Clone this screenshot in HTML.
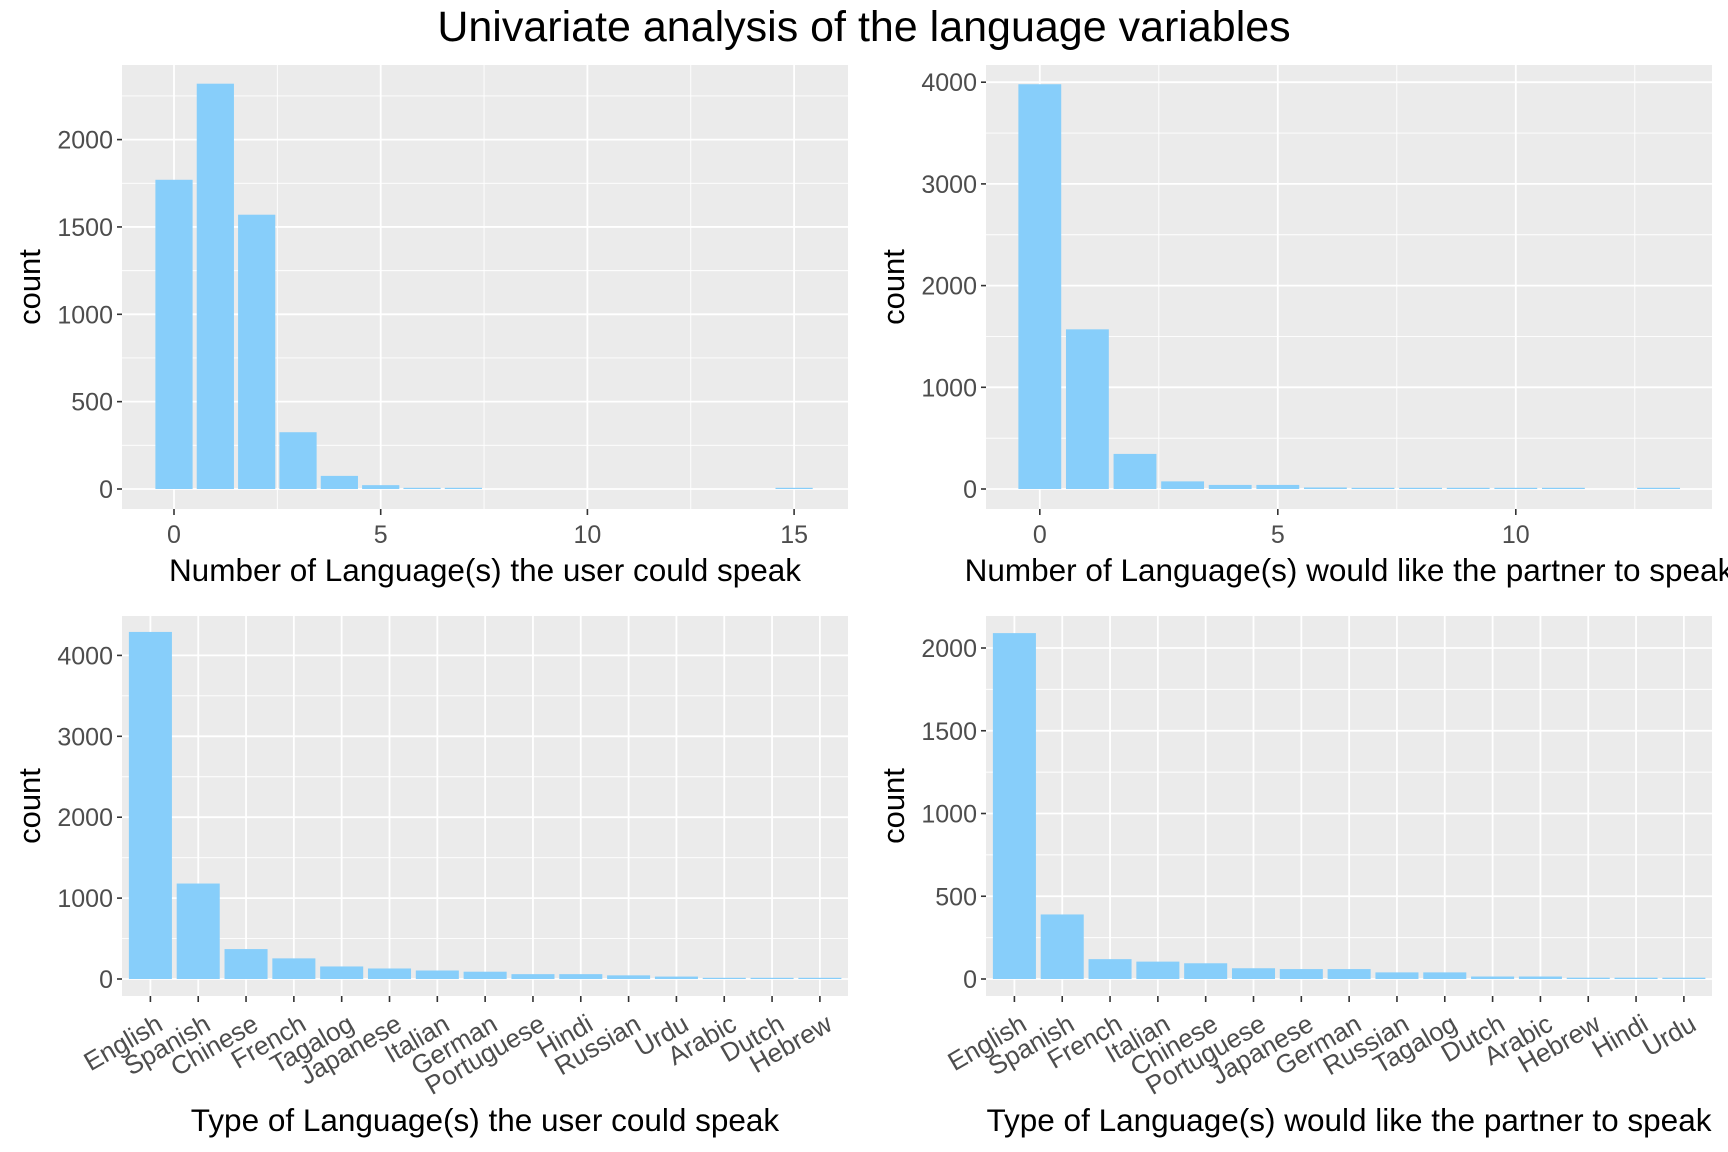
<!DOCTYPE html>
<html><head><meta charset="utf-8"><style>
html,body{margin:0;padding:0;background:#fff;overflow:hidden;}
svg{display:block;font-family:"Liberation Sans",Arial,sans-serif;}
</style></head><body>
<svg id="s" width="1728" height="1152" xmlns="http://www.w3.org/2000/svg">
<rect width="1728" height="1152" fill="#fff"/>
<text x="864" y="41" text-anchor="middle" font-size="43" fill="#000">Univariate analysis of the language variables</text>
</svg>
<script>
var NS="http://www.w3.org/2000/svg",S=document.getElementById("s");
function el(t,a,txt){var e=document.createElementNS(NS,t);for(var k in a)e.setAttribute(k,a[k]);if(txt!==undefined)e.textContent=txt;S.appendChild(e);return e;}
function panel(c){
 var L=c.ox+122,R=c.ox+848,T=c.top,B=c.bot;
 el("rect",{x:L,y:T,width:R-L,height:B-T,fill:"#EBEBEB"});
 var ym=function(v){return c.y0-v*c.uy;};
 var xm=function(v){return c.ox+c.x0+v*c.ux;};
 c.yminor.forEach(function(v){el("line",{x1:L,x2:R,y1:ym(v),y2:ym(v),stroke:"#fff","stroke-width":0.9});});
 (c.xminor||[]).forEach(function(v){el("line",{y1:T,y2:B,x1:xm(v),x2:xm(v),stroke:"#fff","stroke-width":0.9});});
 c.yticks.forEach(function(v){el("line",{x1:L,x2:R,y1:ym(v),y2:ym(v),stroke:"#fff","stroke-width":1.8});
  el("line",{x1:L-5,x2:L,y1:ym(v),y2:ym(v),stroke:"#333","stroke-width":1.6});
  el("text",{x:L-9,y:ym(v)+9,"text-anchor":"end","font-size":25,fill:"#4d4d4d"},String(v));});
 var xt=c.xticks;
 xt.forEach(function(v){el("line",{y1:T,y2:B,x1:xm(v),x2:xm(v),stroke:"#fff","stroke-width":1.8});
  el("line",{y1:B,y2:B+6,x1:xm(v),x2:xm(v),stroke:"#333","stroke-width":1.6});});
 var hw=0.45*c.ux;
 c.bars.forEach(function(b){var h=b[1]*c.uy;if(h<1.2)h=1.2;
  el("rect",{x:xm(b[0])-hw,y:c.y0-h,width:2*hw,height:h,fill:"#87CEFA"});});
 if(c.cats){c.cats.forEach(function(n,i){var x=xm(i)+14,y=B+33;
   el("text",{x:x,y:y,"text-anchor":"end","font-size":26,fill:"#4d4d4d",transform:"rotate(-30 "+x+" "+y+")"},n);});}
 else{xt.forEach(function(v){el("text",{x:xm(v),y:B+34,"text-anchor":"middle","font-size":25,fill:"#4d4d4d"},String(v));});}
 el("text",{x:(L+R)/2,y:c.ty,"text-anchor":"middle","font-size":31.5,fill:"#000"},c.title);
 var cy=(T+B)/2;
 el("text",{x:c.ox+40,y:cy,"text-anchor":"middle","font-size":31,fill:"#000",transform:"rotate(-90 "+(c.ox+40)+" "+cy+")"},"count");
}
function rng(a,b,s){var r=[];for(var v=a;v<=b+1e-9;v+=s)r.push(v);return r;}
panel({ox:0,top:65,bot:509,y0:489,uy:349.4/2000,x0:174,ux:41.34,
 yticks:rng(0,2000,500),yminor:rng(250,2250,500),xticks:[0,5,10,15],xminor:[2.5,7.5,12.5],
 bars:[[0,1770],[1,2320],[2,1570],[3,325],[4,75],[5,22],[6,5],[7,5],[15,5]],
 title:"Number of Language(s) the user could speak",ty:581});
panel({ox:864,top:65,bot:509,y0:489,uy:406.8/4000,x0:175.8,ux:47.6,
 yticks:rng(0,4000,1000),yminor:rng(500,3500,1000),xticks:[0,5,10],xminor:[2.5,7.5,12.5],
 bars:[[0,3980],[1,1570],[2,345],[3,75],[4,40],[5,40],[6,15],[7,5],[8,5],[9,5],[10,5],[11,5],[13,5]],
 title:"Number of Language(s) would like the partner to speak",ty:581});
var c1=["English","Spanish","Chinese","French","Tagalog","Japanese","Italian","German","Portuguese","Hindi","Russian","Urdu","Arabic","Dutch","Hebrew"];
var v1=[4290,1180,370,255,155,130,105,90,60,60,45,30,8,8,8];
panel({ox:0,top:616,bot:996,y0:979,uy:323.6/4000,x0:150.4,ux:47.82,
 yticks:rng(0,4000,1000),yminor:rng(500,3500,1000),xticks:rng(0,14,1),
 bars:v1.map(function(v,i){return [i,v];}),cats:c1,
 title:"Type of Language(s) the user could speak",ty:1131});
var c2=["English","Spanish","French","Italian","Chinese","Portuguese","Japanese","German","Russian","Tagalog","Dutch","Arabic","Hebrew","Hindi","Urdu"];
var v2=[2090,390,120,105,95,65,60,60,40,40,15,15,8,8,8];
panel({ox:864,top:616,bot:996,y0:979,uy:331/2000,x0:150.4,ux:47.82,
 yticks:rng(0,2000,500),yminor:rng(250,1750,500),xticks:rng(0,14,1),
 bars:v2.map(function(v,i){return [i,v];}),cats:c2,
 title:"Type of Language(s) would like the partner to speak",ty:1131});
</script>
</body></html>
